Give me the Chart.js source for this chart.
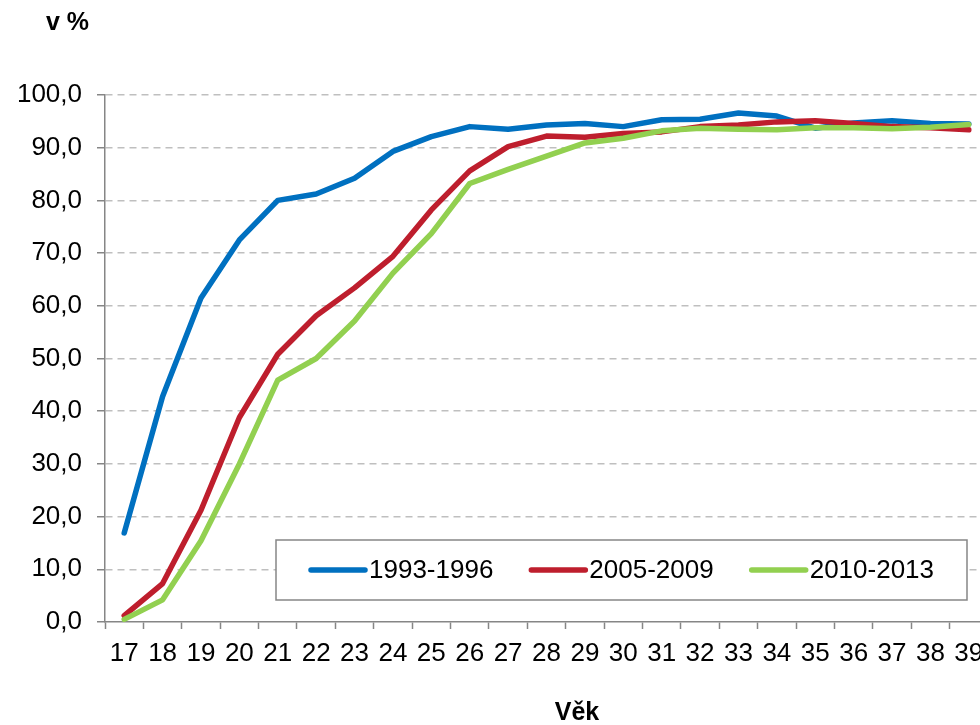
<!DOCTYPE html>
<html>
<head>
<meta charset="utf-8">
<script src="https://cdn.jsdelivr.net/npm/chart.js@4/dist/chart.umd.min.js"></script>
<style>
  html, body { margin: 0; padding: 0; background: #fff; overflow: hidden; }
  #wrap { width: 980px; height: 725px; overflow: hidden; }
</style>
</head>
<body>
<div id="wrap"><canvas id="vekChart" width="1000" height="725"></canvas></div>
<script>
// věk 17 - 39
const ageLabels = ["17", "18", "19", "20", "21", "22", "23", "24", "25", "26", "27", "28",
  "29", "30", "31", "32", "33", "34", "35", "36", "37", "38", "39"];
const seriesNames = ["1993-1996", "2005-2009", "2010-2013"];
const values1993 = [16.9, 42.8, 61.5, 72.5, 80.0, 81.2, 84.2, 89.3, 92.1, 94.0, 93.5, 94.3,
  94.6, 94.0, 95.3, 95.4, 96.6, 96.0, 93.7, 94.7, 95.1, 94.6, 94.5];
const values2005 = [1.2, 7.3, 21.2, 38.8, 50.8, 58.1, 63.4, 69.4, 78.2, 85.6, 90.2, 92.2,
  92.0, 92.7, 93.0, 94.0, 94.3, 94.9, 95.1, 94.6, 94.0, 93.8, 93.4];
const values2010 = [0.5, 4.2, 15.4, 30.0, 45.9, 50.0, 57.1, 66.2, 73.7, 83.2, 85.9, 88.4,
  90.9, 91.8, 93.2, 93.7, 93.5, 93.4, 93.8, 93.8, 93.6, 93.9, 94.4];
const yTicks = [0, 10, 20, 30, 40, 50, 60, 70, 80, 90, 100];

const colors = ["#0070C0", "#BE1E2D", "#92D050"];
const fontFamily = "'Liberation Sans', Arial, sans-serif";
const axisGray = "#868686";

// legenda v rámečku uvnitř grafu
const boxLegend = {
  id: "boxLegend",
  afterDatasetsDraw(chart) {
    const ctx = chart.ctx;
    ctx.save();
    ctx.fillStyle = "#fff";
    ctx.fillRect(276, 540, 691, 60);
    ctx.strokeStyle = axisGray;
    ctx.lineWidth = 1.5;
    ctx.strokeRect(276, 540, 691, 60);
    ctx.font = "26px " + fontFamily;
    ctx.textBaseline = "middle";
    let x = 311;
    const y = 570;
    chart.data.datasets.forEach((ds) => {
      ctx.strokeStyle = ds.borderColor;
      ctx.lineWidth = 5.5;
      ctx.lineCap = "round";
      ctx.beginPath();
      ctx.moveTo(x, y);
      ctx.lineTo(x + 54, y);
      ctx.stroke();
      ctx.fillStyle = "#000";
      ctx.fillText(ds.label, x + 58, y + 1);
      x += 58 + ctx.measureText(ds.label).width + 38;
    });
    ctx.restore();
  },
};

// popisky os
const axisTitles = {
  id: "axisTitles",
  afterDraw(chart) {
    const ctx = chart.ctx;
    ctx.save();
    ctx.fillStyle = "#000";
    ctx.font = "bold 25px " + fontFamily;
    ctx.textBaseline = "alphabetic";
    ctx.textAlign = "left";
    ctx.fillText("v %", 46, 30);
    ctx.font = "bold 25px " + fontFamily;
    ctx.textAlign = "center";
    ctx.fillText("Věk", 577, 720);
    ctx.restore();
  },
};

function createDataset(label, data, color, order) {
  return {
    label: label,
    data: data,
    borderColor: color,
    backgroundColor: color,
    borderWidth: 5.5,
    borderCapStyle: "round",
    borderJoinStyle: "round",
    pointRadius: 0,
    tension: 0,
    fill: false,
    order: order,
  };
}

const config = {
  type: "line",
  data: {
    labels: ageLabels,
    datasets: [
      createDataset(seriesNames[0], values1993, colors[0], 2),
      createDataset(seriesNames[1], values2005, colors[1], 1),
      createDataset(seriesNames[2], values2010, colors[2], 0),
    ],
  },
  options: {
    responsive: false,
    animation: false,
    layout: { padding: { top: 95, right: 12, left: 0, bottom: 0 } },
    plugins: {
      legend: { display: false },
      tooltip: { enabled: false },
    },
    scales: {
      x: {
        type: "category",
        offset: true,
        grid: {
          offset: true,
          drawOnChartArea: false,
          drawTicks: true,
          tickLength: 7,
          tickColor: axisGray,
          tickWidth: 1.5,
        },
        border: { color: axisGray, width: 1.5 },
        ticks: {
          autoSkip: false,
          maxRotation: 0,
          padding: 9,
          color: "#000",
          font: { family: fontFamily, size: 26 },
        },
        afterFit(scale) {
          scale.height = 103;
        },
      },
      y: {
        min: 0,
        max: 100,
        afterBuildTicks(scale) {
          scale.ticks = yTicks.map((v) => ({ value: v }));
        },
        grid: {
          color: (c) => (c.tick && c.tick.value === 0 ? "rgba(0,0,0,0)" : "#BFBFBF"),
          lineWidth: 1.5,
          tickLength: 8,
          tickColor: axisGray,
          tickWidth: 1.5,
          tickBorderDash: [],
        },
        border: { color: axisGray, width: 1.5, dash: [7, 5] },
        ticks: {
          padding: 15,
          color: "#000",
          font: { family: fontFamily, size: 26 },
          callback: (v) => v.toFixed(1).replace(".", ","),
        },
        afterFit(scale) {
          scale.width = 105;
        },
      },
    },
  },
  plugins: [boxLegend, axisTitles],
};

const vekChartElm = document.querySelector("#vekChart");
const vekChart = new Chart(vekChartElm, config);
</script>
</body>
</html>
